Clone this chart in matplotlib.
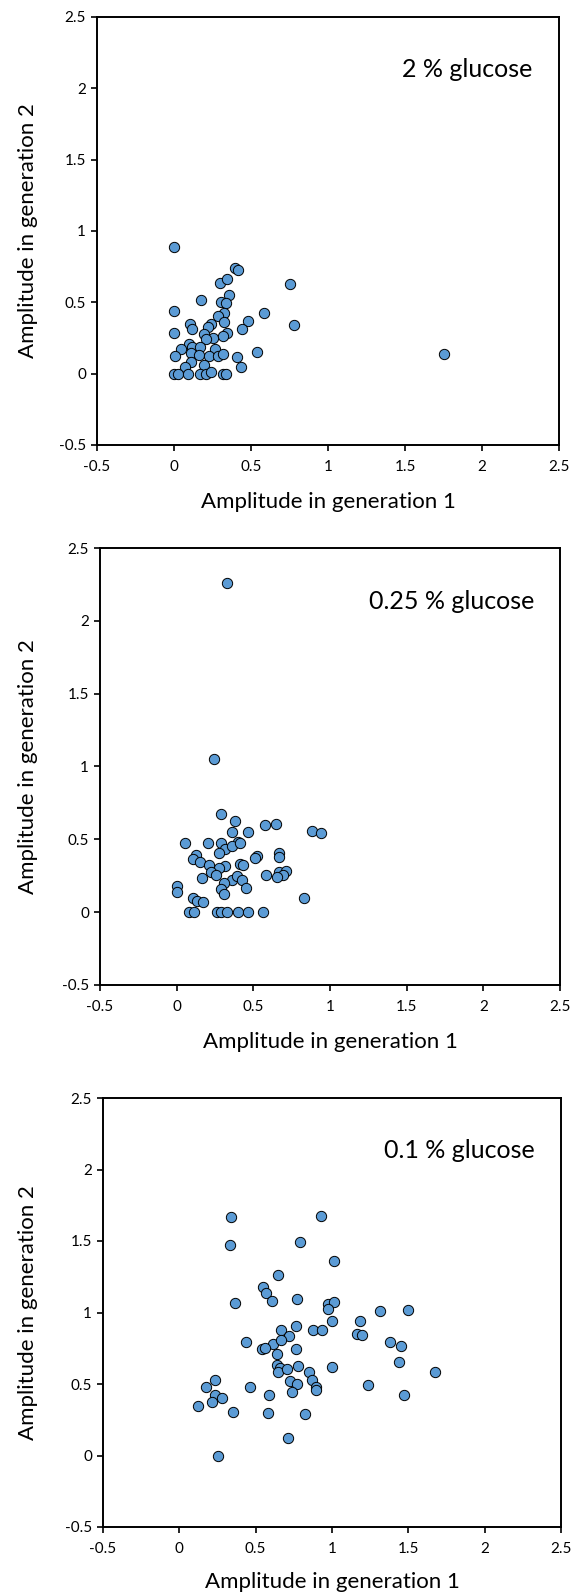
import matplotlib
matplotlib.use("Agg")
import matplotlib.pyplot as plt
from matplotlib.ticker import FuncFormatter
import numpy as np

plt.rcParams['font.family'] = ['Lato', 'DejaVu Sans']

W, H = 574, 1594

# 2 % glucose
gen1_2 = [0, 0.395, 0.416, 0.297, 0.343, 0.753, 0.174, 0.356, 0.308, 0.336,
          0, 0.586, 0.323, 0.286, 0.482, 0.323, 0.781, 0.102, 0.239, 0.117,
          0.443, 0.221, 0.195, 0, 0.345, 0.254, 0.315, 0.206, 0.098, 0.043,
          0.117, 0.167, 0.265, 0.540, 0.004, 0.113, 0.163, 0.226, 0.286, 0.319,
          0.412, 0.108, 0.074, 0.195, 0.434, 0, 0.026, 0.091, 0.167, 0.210,
          0.243, 0.315, 0.336, 1.752]
gen2_2 = [0.888, 0.739, 0.727, 0.638, 0.662, 0.631, 0.514, 0.550, 0.499, 0.494,
          0.442, 0.422, 0.422, 0.403, 0.367, 0.362, 0.343, 0.350, 0.350, 0.310,
          0.310, 0.326, 0.278, 0.286, 0.286, 0.250, 0.262, 0.242, 0.211, 0.175,
          0.190, 0.190, 0.175, 0.151, 0.122, 0.142, 0.134, 0.122, 0.122, 0.139,
          0.118, 0.079, 0.050, 0.062, 0.046, 0, 0, 0, 0, 0,
          0.014, 0, 0, 0.136]

# 0.25 % glucose
gen1_025 = [0.329, 0.245, 0.286, 0.382, 0.575, 0.651, 0.362, 0.467, 0.884, 0.942,
            0.056, 0.206, 0.291, 0.403, 0.317, 0.360, 0.275, 0.412, 0.128, 0.104,
            0.525, 0.508, 0.670, 0.670, 0.152, 0.213, 0.313, 0.275, 0.412, 0.432,
            0.221, 0.254, 0.163, 0.358, 0.395, 0.426, 0.308, 0.452, 0.286, 0.308,
            0.580, 0.668, 0.714, 0.695, 0.653, 0.004, 0.004, 0.104, 0.134, 0.173,
            0.831, 0.082, 0.113, 0.261, 0.288, 0.331, 0.403, 0.468, 0.561]
gen2_025 = [2.262, 1.052, 0.673, 0.628, 0.599, 0.607, 0.552, 0.548, 0.555, 0.543,
            0.476, 0.476, 0.476, 0.484, 0.437, 0.453, 0.405, 0.472, 0.393, 0.365,
            0.386, 0.370, 0.405, 0.377, 0.341, 0.326, 0.317, 0.305, 0.334, 0.326,
            0.274, 0.257, 0.234, 0.222, 0.251, 0.222, 0.203, 0.167, 0.160, 0.127,
            0.255, 0.279, 0.286, 0.258, 0.239, 0.179, 0.138, 0.100, 0.079, 0.072,
            0.100, 0, 0, 0, 0, 0, 0, 0, 0]

# 0.1 % glucose
gen1_01 = [0.339, 0.931, 0.329, 0.792, 1.012, 0.649, 0.547, 0.568, 0.606, 0.363,
           0.768, 0.971, 1.010, 0.974, 1.315, 1.496, 1.002, 1.184, 0.764, 0.663,
           0.874, 0.936, 1.165, 1.196, 1.379, 1.453, 0.439, 0.611, 0.721, 0.668,
           0.544, 0.560, 0.764, 0.642, 1.442, 0.637, 0.661, 0.649, 0.704, 0.776,
           1.002, 1.675, 0.847, 0.871, 0.893, 0.897, 0.726, 0.773, 0.735, 1.234,
           1.470, 0.461, 0.585, 0.236, 0.177, 0.236, 0.282, 0.217, 0.122, 0.351,
           0.578, 0.821, 0.709, 0.251]
gen2_01 = [1.666, 1.676, 1.472, 1.491, 1.361, 1.263, 1.179, 1.135, 1.079, 1.064,
           1.096, 1.057, 1.076, 1.025, 1.012, 1.020, 0.939, 0.939, 0.909, 0.880,
           0.880, 0.875, 0.853, 0.845, 0.794, 0.767, 0.791, 0.781, 0.833, 0.811,
           0.747, 0.755, 0.747, 0.708, 0.654, 0.636, 0.612, 0.582, 0.607, 0.627,
           0.619, 0.582, 0.582, 0.531, 0.482, 0.457, 0.521, 0.501, 0.442, 0.491,
           0.420, 0.479, 0.425, 0.526, 0.477, 0.423, 0.405, 0.373, 0.349, 0.305,
           0.300, 0.290, 0.120, 0]

titles = ["2 % glucose", "0.25 % glucose", "0.1 % glucose"]
xs = [gen1_2, gen1_025, gen1_01]
ys = [gen2_2, gen2_025, gen2_01]
# axes boxes in pixels: left, top, right, bottom
boxes = [(97, 17, 559, 445), (100, 548, 560, 985), (103, 1098, 561, 1527)]
# gap (px) from bottom spine to top of x label
xlab_gap = [47, 47, 45]

ticks = np.arange(-0.5, 2.51, 0.5)

fig = plt.figure(figsize=(W / 100, H / 100), dpi=100)
for title, x, y, (l, t, r, b), gap in zip(titles, xs, ys, boxes, xlab_gap):
    ax = fig.add_axes([l / W, 1 - b / H, (r - l) / W, (b - t) / H])
    ax.scatter(x, y, s=55, c='#5B9BD5', edgecolors='black', linewidths=0.7, zorder=3)
    ax.set_xlim(-0.5, 2.5)
    ax.set_ylim(-0.5, 2.5)
    ax.set_xticks(ticks)
    ax.set_yticks(ticks)
    fmt = FuncFormatter(lambda v, p: '%g' % v)
    ax.xaxis.set_major_formatter(fmt)
    ax.yaxis.set_major_formatter(fmt)
    ax.tick_params(direction='out', length=4, width=1.2, labelsize=11, pad=4)
    ax.tick_params(axis='x', pad=7)
    ax.tick_params(top=False, right=False)
    for s in ax.spines.values():
        s.set_linewidth(1.4)
    ax.text(2.33, 2.13, title, ha='right', va='center', fontsize=18)
    ax.set_xlabel('Amplitude in generation 1', fontsize=16)
    ax.set_ylabel('Amplitude in generation 2', fontsize=16)
    ax.xaxis.set_label_coords(0.5, -gap / (b - t))
    ax.yaxis.set_label_coords(-(l - 38) / (r - l), 0.5)

plt.savefig('out.png', dpi=100)
plt.close()
